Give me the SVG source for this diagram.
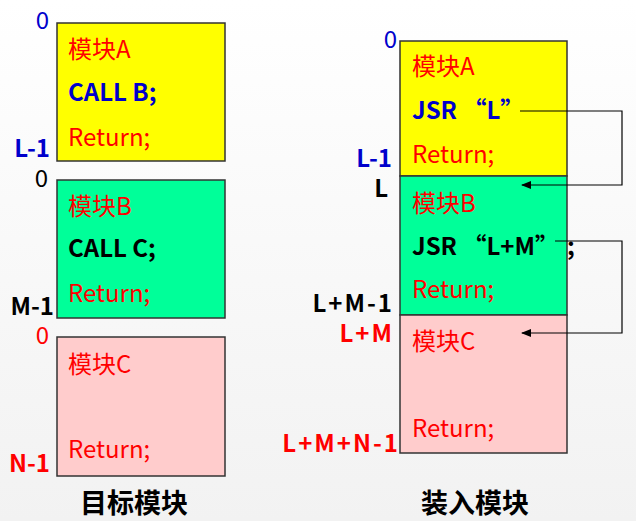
<svg xmlns="http://www.w3.org/2000/svg" width="636" height="521" viewBox="0 0 636 521">
<defs>
<linearGradient id="bg" x1="0" y1="0" x2="0" y2="1">
<stop offset="0" stop-color="#ffffff"/>
<stop offset="1" stop-color="#f2f2f2"/>
</linearGradient>
<marker id="ah" markerWidth="10" markerHeight="8" refX="9" refY="4" orient="auto" markerUnits="userSpaceOnUse">
<path d="M0,0 L10,4 L0,8 Z" fill="#000"/>
</marker>
<style>
text{font-family:"Noto Sans CJK SC","Noto Sans",sans-serif;font-size:24px}
.b{font-weight:bold}
.ls{letter-spacing:2px}
.r{fill:#ff0000}
.u{fill:#0000cc}
.k{fill:#000}
.e{text-anchor:end}
.box{stroke:#333;stroke-width:1.5}
.ya{fill:#ffff00}.gr{fill:#00ff99}.pk{fill:#ffcccc}
.t{font-size:27px;font-weight:bold;text-anchor:middle;fill:#000}
.c{fill:none;stroke:#000;stroke-width:1.2}
</style>
</defs>
<rect width="636" height="521" fill="url(#bg)"/>
<g id="left-A">
<rect class="box ya" x="57" y="23" width="168" height="138"/>
<text class="u e" x="49" y="29">0</text>
<text class="r" x="68" y="58">模块A</text>
<text class="b u" x="68" y="101">CALL B;</text>
<text class="r" x="68" y="146">Return;</text>
<text class="b u e" x="50" y="157">L-1</text>
</g>
<g id="left-B">
<rect class="box gr" x="57" y="180" width="168" height="138"/>
<text class="k e" x="48" y="187">0</text>
<text class="r" x="68" y="215">模块B</text>
<text class="b k" x="68" y="257">CALL C;</text>
<text class="r" x="68" y="302">Return;</text>
<text class="b k e" x="54" y="315">M-1</text>
</g>
<g id="left-C">
<rect class="box pk" x="57" y="337" width="168" height="139"/>
<text class="r e" x="49" y="344">0</text>
<text class="r" x="68" y="373">模块C</text>
<text class="r" x="68" y="458">Return;</text>
<text class="b r e" x="50" y="472">N-1</text>
</g>
<g id="right-A">
<rect class="box ya" x="400" y="41" width="167" height="135"/>
<text class="u e" x="397" y="48">0</text>
<text class="r" x="412" y="75">模块A</text>
<text class="b u" x="412" y="119">JSR “L”</text>
<text class="r" x="412" y="163">Return;</text>
<text class="b u e" x="392" y="167">L-1</text>
</g>
<g id="right-B">
<rect class="box gr" x="400" y="176" width="167" height="139"/>
<text class="b k e" x="388" y="197">L</text>
<text class="r" x="412" y="212">模块B</text>
<text class="b k" x="412" y="255">JSR “L+M”</text>
<text class="b k" x="567" y="255">;</text>
<text class="r" x="412" y="298">Return;</text>
<text class="b k e ls" x="394" y="312">L+M-1</text>
</g>
<g id="right-C">
<rect class="box pk" x="400" y="315" width="167" height="138"/>
<text class="b r e ls" x="394" y="342">L+M</text>
<text class="r" x="412" y="350">模块C</text>
<text class="r" x="412" y="437">Return;</text>
<text class="b r e ls" x="400" y="452">L+M+N-1</text>
</g>
<g id="titles">
<text class="t" x="134" y="513">目标模块</text>
<text class="t" x="475" y="513">装入模块</text>
</g>
<g id="connectors">
<polyline class="c" points="520,111 622,111 622,185 522,185" marker-end="url(#ah)"/>
<polyline class="c" points="555,241 622,241 622,333 522,333" marker-end="url(#ah)"/>
</g>
</svg>
